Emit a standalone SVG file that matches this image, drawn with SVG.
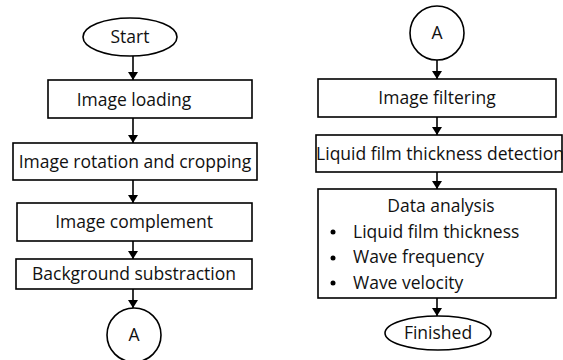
<svg xmlns="http://www.w3.org/2000/svg" width="563" height="360" viewBox="0 0 563 360">
<style>
.s{fill:#fff;stroke:#000;stroke-width:1.6}
.t{font-family:"Open Sans","Liberation Sans",sans-serif;font-size:17.5px;fill:#111;text-anchor:middle}
.l{font-family:"Open Sans","Liberation Sans",sans-serif;font-size:17.5px;fill:#111}
.c{stroke:#000;stroke-width:1.6;fill:none;marker-end:url(#a)}
</style>
<defs>
<marker id="a" markerWidth="8" markerHeight="10" refX="8" refY="5" orient="auto" markerUnits="userSpaceOnUse" viewBox="0 0 8 10">
<path d="M0,0 L8,5 L0,10 Z" fill="#000"/>
</marker>
</defs>
<g id="connectors">
<line class="c" x1="133" y1="56" x2="133" y2="80"/>
<line class="c" x1="133" y1="118" x2="133" y2="143"/>
<line class="c" x1="133" y1="180" x2="133" y2="203"/>
<line class="c" x1="133" y1="241" x2="133" y2="259"/>
<line class="c" x1="133" y1="289" x2="133" y2="308"/>
<line class="c" x1="437" y1="60" x2="437" y2="79"/>
<line class="c" x1="437" y1="117" x2="437" y2="135"/>
<line class="c" x1="437" y1="172" x2="437" y2="189"/>
<line class="c" x1="437" y1="298" x2="437" y2="316"/>
</g>
<g id="start"><ellipse class="s" cx="130" cy="37" rx="47" ry="19"/><text class="t" x="130" y="43">Start</text></g>
<g id="load"><rect class="s" x="48" y="80" width="204" height="38"/><text class="t" x="134" y="106">Image loading</text></g>
<g id="rot"><rect class="s" x="13" y="143" width="244" height="37"/><text class="t" x="135" y="168">Image rotation and cropping</text></g>
<g id="comp"><rect class="s" x="17" y="203" width="235" height="38"/><text class="t" x="134" y="228">Image complement</text></g>
<g id="bg"><rect class="s" x="16" y="259" width="236" height="30"/><text class="t" x="134" y="280">Background substraction</text></g>
<g id="a1"><circle class="s" cx="134" cy="335" r="27"/><text class="t" x="134" y="341">A</text></g>
<g id="a2"><circle class="s" cx="437" cy="33" r="27"/><text class="t" x="437" y="39">A</text></g>
<g id="filt"><rect class="s" x="318" y="79" width="238" height="38"/><text class="t" x="437" y="104">Image filtering</text></g>
<g id="det"><rect class="s" x="316" y="135" width="246" height="37"/><text class="t" x="440" y="160">Liquid film thickness detection</text></g>
<g id="data"><rect class="s" x="318" y="189" width="238" height="109"/>
<text class="t" x="441" y="212">Data analysis</text>
<circle cx="333" cy="232" r="2.5" fill="#000"/><text class="l" x="353" y="238">Liquid film thickness</text>
<circle cx="333" cy="258" r="2.5" fill="#000"/><text class="l" x="353" y="263">Wave frequency</text>
<circle cx="333" cy="283" r="2.5" fill="#000"/><text class="l" x="353" y="289">Wave velocity</text>
</g>
<g id="fin"><ellipse class="s" cx="438" cy="333" rx="53" ry="17"/><text class="t" x="438" y="339">Finished</text></g>
</svg>
